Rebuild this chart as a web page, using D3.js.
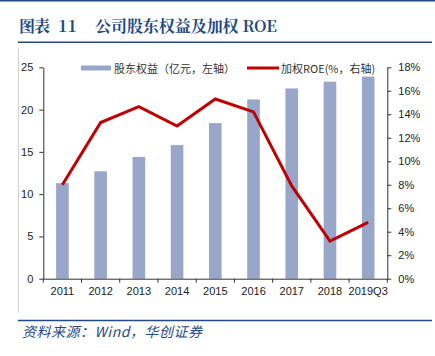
<!DOCTYPE html>
<html><head><meta charset="utf-8">
<script src="https://cdn.jsdelivr.net/npm/d3@7"></script>
<style>body{margin:0;background:#fff}svg{display:block}</style>
</head><body><svg id="c" width="435" height="356"></svg>
<script>
const categories = ["2011","2012","2013","2014","2015","2016","2017","2018","2019Q3"];
const equity = [11.3, 12.7, 14.4, 15.8, 18.4, 21.2, 22.5, 23.3, 23.9];
const roe = [8.0, 13.3, 14.65, 13.0, 15.3, 14.2, 7.9, 3.2, 4.8];
const leftTicks = [0,5,10,15,20,25];
const rightTicks = [0,2,4,6,8,10,12,14,16,18];
const titleParts = ["图表","11","公司股东权益及加权 ROE"];
const legendLabels = ["股东权益（亿元，左轴）","加权ROE(%，右轴)"];
const sourceText = "资料来源：Wind，华创证券";

const svg = d3.select("#c");
const fontAxis = "Arial, 'Liberation Sans', 'Noto Sans CJK SC', sans-serif";
const navy = "#1F4A83";
const barColor = "#98A6C9";
const red = "#C00000";

svg.append("rect").attr("x",0).attr("y",0).attr("width",435).attr("height",1.5).attr("fill",navy);
const tg = svg.append("g").attr("fill",navy)
  .attr("font-family","'Noto Serif CJK SC','Noto Sans CJK SC',serif").attr("font-size",16).attr("font-weight","bold");
tg.append("text").attr("x",19).attr("y",32).attr("textLength",31).text(titleParts[0]);
tg.append("text").attr("x",58).attr("y",32).text(titleParts[1]);
tg.append("text").attr("x",95).attr("y",32).attr("textLength",182).attr("lengthAdjust","spacing").text(titleParts[2]);
svg.append("line").attr("x1",18).attr("x2",432).attr("y1",42.3).attr("y2",42.3).attr("stroke",navy).attr("stroke-width",1.6);
svg.append("line").attr("x1",18.5).attr("x2",18.5).attr("y1",48).attr("y2",313).attr("stroke","#d0d0d0").attr("stroke-width",1);
svg.append("line").attr("x1",18).attr("x2",432).attr("y1",320.5).attr("y2",320.5).attr("stroke",navy).attr("stroke-width",1.6);
svg.append("text").attr("x",22).attr("y",336.5).attr("fill",navy)
  .attr("font-family","'Noto Sans CJK SC',serif").attr("font-size",14).attr("font-style","italic")
  .attr("textLength",180).attr("lengthAdjust","spacing").text(sourceText);

const x0 = 43.3, x1 = 387.3, yTop = 67.3, yBot = 278.7;
const x = d3.scaleBand().domain(categories).range([x0,x1]).paddingInner(0).paddingOuter(0);
const yL = d3.scaleLinear().domain([0,25]).range([yBot,yTop]);
const yR = d3.scaleLinear().domain([0,18]).range([yBot,yTop]);

const bw = x.bandwidth()*0.33;
svg.append("g").selectAll("rect").data(equity).join("rect")
  .attr("x",(d,i)=>x(categories[i])+x.bandwidth()/2-bw/2)
  .attr("y",d=>yL(d)).attr("width",bw).attr("height",d=>yBot-yL(d)).attr("fill",barColor);

const line = d3.line().x((d,i)=>x(categories[i])+x.bandwidth()/2).y(d=>yR(d));
svg.append("path").datum(roe).attr("d",line).attr("fill","none").attr("stroke",red).attr("stroke-width",3).attr("stroke-linejoin","miter");

function styleAxis(g){
  g.selectAll("path,line").attr("stroke","#333").attr("stroke-width",1);
  g.selectAll("text").attr("font-family",fontAxis).attr("font-size",11).attr("fill","#222");
}
svg.append("g").attr("transform",`translate(${x0},0)`)
  .call(d3.axisLeft(yL).tickValues(leftTicks).tickSize(4).tickSizeOuter(0).tickPadding(6))
  .call(styleAxis);
svg.append("g").attr("transform",`translate(${x1},0)`)
  .call(d3.axisRight(yR).tickValues(rightTicks).tickSize(4).tickSizeOuter(0).tickPadding(7).tickFormat(d=>d+"%"))
  .call(styleAxis);
svg.append("g").attr("transform",`translate(0,${yBot})`)
  .call(d3.axisBottom(x).tickSize(0).tickPadding(9))
  .call(styleAxis);
svg.append("g").selectAll("line").data(d3.range(categories.length+1)).join("line")
  .attr("x1",i=>x0+i*x.bandwidth()).attr("x2",i=>x0+i*x.bandwidth())
  .attr("y1",yBot).attr("y2",yBot+4).attr("stroke","#333");

const lg = svg.append("g").attr("font-family","'Noto Sans CJK SC', sans-serif").attr("font-size",11).attr("fill","#333");
lg.append("rect").attr("x",81).attr("y",65.5).attr("width",30).attr("height",5).attr("fill",barColor);
lg.append("text").attr("x",114).attr("y",72.5).text(legendLabels[0]);
lg.append("line").attr("x1",247).attr("x2",279).attr("y1",68).attr("y2",68).attr("stroke",red).attr("stroke-width",3);
lg.append("text").attr("x",281).attr("y",72.5).text(legendLabels[1]);
</script></body></html>
